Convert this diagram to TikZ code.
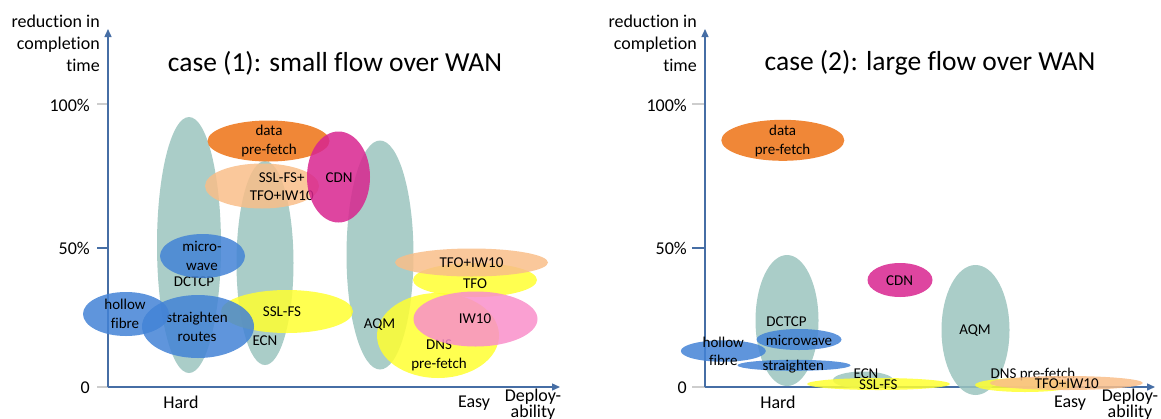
\documentclass[tikz,border=0pt]{standalone}
\usepackage{fontspec}
\setmainfont[Ligatures={NoCommon}]{Carlito}
\usetikzlibrary{shapes.geometric,arrows.meta}

\definecolor{axisblue}{RGB}{70,110,165}
\definecolor{tickgrey}{RGB}{205,205,205}
\definecolor{tealc}{RGB}{155,196,190}
\definecolor{orangec}{RGB}{237,114,20}
\definecolor{peachc}{RGB}{249,190,137}
\definecolor{magentac}{RGB}{216,37,143}
\definecolor{bluec}{RGB}{67,131,214}
\definecolor{yellowc}{RGB}{255,255,49}
\definecolor{pinkc}{RGB}{249,143,202}

\tikzset{
  blob/.style={ellipse, inner sep=0pt, draw=none, fill opacity=0.85},
  tealblob/.style={blob, fill=tealc},
  orangeblob/.style={blob, fill=orangec},
  peachblob/.style={blob, fill=peachc},
  magentablob/.style={blob, fill=magentac},
  blueblob/.style={blob, fill=bluec},
  yellowblob/.style={blob, fill=yellowc},
  pinkblob/.style={blob, fill=pinkc},
  tag/.style={inner sep=0pt, align=center, text=black, font=\fontsize{15}{18.5}\selectfont},
  axis/.style={draw=axisblue, line width=1.4pt, -{Triangle[length=8pt,width=7pt]}},
  axlabel/.style={inner sep=0pt, text=black, font=\fontsize{18}{21.7}\selectfont},
  titletext/.style={inner sep=0pt, text=black, font=\fontsize{27.5}{33}\selectfont},
}

\begin{document}
\begin{tikzpicture}[x=1pt, y=-1pt]
\useasboundingbox (0,0) rectangle (1161,418);

% ---------------- left chart: small flow ----------------
\coordinate (o1) at (108,387);
\coordinate (ytip1) at (108,29);
\coordinate (xtip1) at (560,387);
\coordinate (t100a) at (97,104);  \coordinate (t100b) at (108,104);
\coordinate (t50a)  at (97,248);  \coordinate (t50b)  at (108,248);
\coordinate (t0a)   at (97,387);  \coordinate (t0b)   at (108,387);
\draw[tickgrey, line width=1.2pt] (t100a) -- (t100b);
\draw[tickgrey, line width=1.2pt] (t0a) -- (t0b);
\draw[axisblue, line width=1.6pt] (t50a) -- (t50b);
\draw[axis] (o1) -- (ytip1);
\draw[axis] (o1) -- (xtip1);

\node[axlabel, anchor=east] (l100a) at (90,105) {100\%};
\node[axlabel, anchor=east] (l50a)  at (90,248) {50\%};
\node[axlabel, anchor=east] (l0a)   at (90,388) {0};
\node[axlabel, anchor=east, align=right] (ylaba) at (100,43.3) {reduction in\\completion\\time};
\node[titletext] (titlea) at (335,63) {case (1): small flow over WAN};
\node[axlabel] (harda) at (181,402) {Hard};
\node[axlabel] (easya) at (474,403) {Easy};
\node[axlabel] (depa) at (533,397) {Deploy-};
\node[axlabel] (abila) at (533,413) {ability};

% tall teal blobs
\node[tealblob, minimum width=64pt, minimum height=256pt] (dctcpA) at (189,245) {};
\node[tag] (dctcpAt) at (194,282) {DCTCP};
\node[tealblob, minimum width=57pt, minimum height=204pt] (ecnA) at (265,263) {};
\node[tag] (ecnAt) at (265,341) {ECN};
\node[tealblob, minimum width=67pt, minimum height=229pt] (aqmA) at (380,255) {};

% upper group
\node[orangeblob, minimum width=122pt, minimum height=41pt] (dpfA) at (268.5,141) {};
\node[tag] (dpfAt) at (269,141.2) {data\\pre-fetch};
\node[peachblob, minimum width=114pt, minimum height=45pt] (sslpA) at (262,186) {};
\node[tag] (sslpAt) at (281.7,186.5) {SSL-FS+\\TFO+IW10};
\node[magentablob, minimum width=63pt, minimum height=91pt] (cdnA) at (338.5,177) {};
\node[tag] (cdnAt) at (339,178) {CDN};

% left group
\node[blueblob, minimum width=85pt, minimum height=44pt] (mwA) at (202.5,256) {};
\node[tag] (mwAt) at (202,256) {micro-\\wave};
\node[yellowblob, minimum width=132pt, minimum height=43pt] (sslA) at (287,311.5) {};
\node[tag] (sslAt) at (282,312) {SSL-FS};
\node[blueblob, minimum width=112pt, minimum height=63pt] (strA) at (198,326.5) {};
\node[tag] (strAt) at (197,327) {straighten\\routes};
\node[blueblob, minimum width=86pt, minimum height=44pt] (hfA) at (126,314) {};
\node[tag] (hfAt) at (125,314) {hollow\\fibre};

% right group
\node[yellowblob, minimum width=122pt, minimum height=85pt] (dnsA) at (438,335.5) {};
\node[tag] (aqmAt) at (379.5,325) {AQM};
\node[tag] (dnsAt) at (439,355.5) {DNS\\pre-fetch};
\node[yellowblob, minimum width=124pt, minimum height=34pt] (tfoA) at (475,280) {};
\node[tag] (tfoAt) at (475,284) {TFO};
\node[pinkblob, minimum width=124pt, minimum height=55pt] (iwA) at (475.5,319) {};
\node[tag] (iwAt) at (475,319) {IW10};
\node[peachblob, minimum width=153pt, minimum height=28pt] (tiA) at (471.5,262.5) {};
\node[tag] (tiAt) at (471.5,262.5) {TFO+IW10};

% ---------------- right chart: large flow ----------------
\coordinate (o2) at (705,387);
\coordinate (ytip2) at (705,29);
\coordinate (xtip2) at (1155,387);
\coordinate (s100a) at (692,104);  \coordinate (s100b) at (705,104);
\coordinate (s50a)  at (692,248);  \coordinate (s50b)  at (705,248);
\coordinate (s0a)   at (692,387);  \coordinate (s0b)   at (705,387);
\draw[tickgrey, line width=1.2pt] (s100a) -- (s100b);
\draw[tickgrey, line width=1.2pt] (s0a) -- (s0b);
\draw[axisblue, line width=1.6pt] (s50a) -- (s50b);
\draw[axis] (o2) -- (ytip2);
\draw[axis] (o2) -- (xtip2);

\node[axlabel, anchor=east] (l100b) at (687,105) {100\%};
\node[axlabel, anchor=east] (l50b)  at (687,248) {50\%};
\node[axlabel, anchor=east] (l0b)   at (687,388) {0};
\node[axlabel, anchor=east, align=right] (ylabb) at (697,43.3) {reduction in\\completion\\time};
\node[titletext] (titleb) at (930,63) {case (2): large flow over WAN};
\node[axlabel] (hardb) at (778,402) {Hard};
\node[axlabel] (easyb) at (1070,403) {Easy};
\node[axlabel] (depb) at (1130,397) {Deploy-};
\node[axlabel] (abilb) at (1130,413) {ability};

\node[orangeblob, minimum width=123pt, minimum height=41pt] (dpfB) at (782.8,140.3) {};
\node[tag] (dpfBt) at (782.6,141.2) {data\\pre-fetch};
\node[magentablob, minimum width=65pt, minimum height=34pt] (cdnB) at (900,280) {};
\node[tag] (cdnBt) at (899.6,281) {CDN};

\node[tealblob, minimum width=63pt, minimum height=131pt] (dctcpB) at (787,320.5) {};
\node[tag] (dctcpBt) at (786.5,322) {DCTCP};
\node[blueblob, minimum width=85pt, minimum height=21pt] (mwB) at (799,339.5) {};
\node[tag] (mwBt) at (799,340.5) {microwave};
\node[blueblob, minimum width=85pt, minimum height=21.5pt] (hfB) at (723.3,351) {};
\node[blueblob, minimum width=113pt, minimum height=11pt] (strB) at (794,365.3) {};
\node[tag] (strBt) at (793.3,366.7) {straighten};
\node[tag] (hfBt) at (723.3,351.3) {hollow\\fibre};

\node[tealblob, minimum width=60pt, minimum height=17pt] (ecnB) at (863,380) {};
\node[tag] (ecnBt) at (866,373.3) {ECN};
\node[yellowblob, minimum width=143pt, minimum height=12pt] (sslB) at (878.5,384) {};
\node[tag] (sslBt) at (878.3,384.3) {SSL-FS};

\node[tealblob, minimum width=68pt, minimum height=130pt] (aqmB) at (975.5,330) {};
\node[tag] (aqmBt) at (975,331) {AQM};
\node[yellowblob, minimum width=100pt, minimum height=14pt] (dnsB) at (1025,385) {};
\node[tag] (dnsBt) at (1033,374) {DNS pre-fetch};
\node[peachblob, minimum width=153pt, minimum height=14pt] (tiB) at (1066.3,383) {};
\node[tag] (tiBt) at (1066.7,384) {TFO+IW10};
\end{tikzpicture}
\end{document}
